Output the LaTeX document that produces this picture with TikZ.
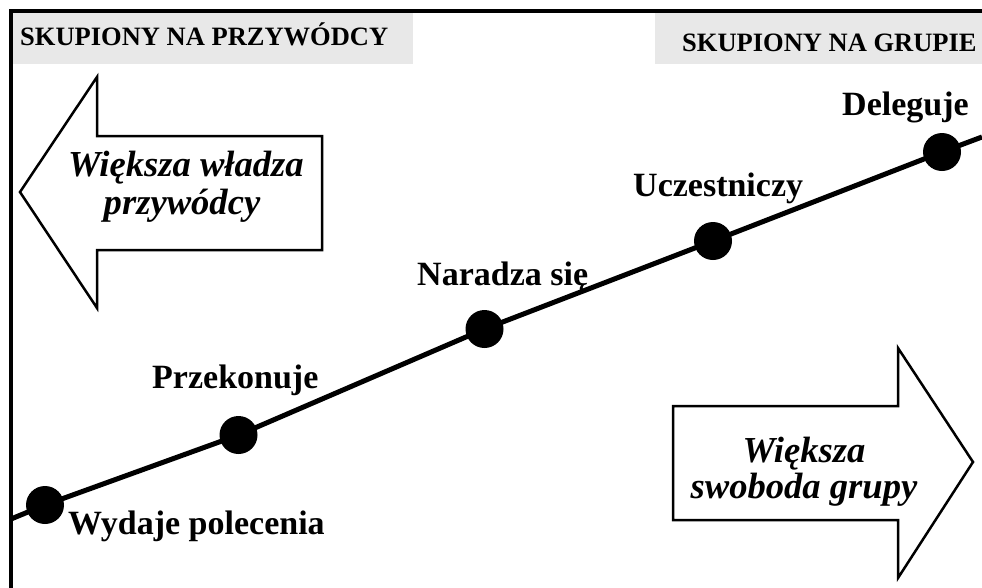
\documentclass[tikz,border=0pt]{standalone}
\usepackage{fontspec}
\setmainfont{Liberation Serif}
\usetikzlibrary{backgrounds}
\definecolor{bandgrey}{HTML}{E8E8E8}
\tikzset{
  frame/.style={line width=3.5pt, line cap=rect},
  band/.style={fill=bandgrey, draw=none},
  bandtext/.style={anchor=base west, inner sep=0pt, font=\fontsize{26.5}{30}\selectfont\bfseries},
  bigarrow/.style={draw=black, fill=white, line width=2.5pt, line join=miter},
  arrowtext/.style={anchor=base, inner sep=0pt, font=\fontsize{36.6}{38}\selectfont\bfseries\itshape},
  scale line/.style={line width=5pt},
  stage/.style={circle, fill=black, minimum size=38pt, inner sep=0pt},
  stagelabel/.style={anchor=base west, inner sep=0pt, font=\fontsize{34}{40}\selectfont\bfseries}
}
\begin{document}
\begin{tikzpicture}[x=1pt, y=-1pt]
  \useasboundingbox (0,0) rectangle (982,587);

  % header bands
  \fill[band] (13,13) rectangle (413,64);
  \fill[band] (655,13) rectangle (982,64);
  \node[bandtext] (hleft) at (20,45) {SKUPIONY NA PRZYWÓDCY};
  \node[bandtext] (hright) at (682,51) {SKUPIONY NA GRUPIE};

  % outer frame (top and left edges)
  \draw[frame] (11,587) -- (11,11) -- (982,11);

  % left block arrow
  \draw[bigarrow] (20,192) -- (97,77) -- (97,136) -- (322,136)
                  -- (322,250) -- (97,250) -- (97,308) -- cycle;
  \node[arrowtext] (la1) at (186,176) {Większa władza};
  \node[arrowtext] (la2) at (182,214) {przywódcy};

  % right block arrow
  \draw[bigarrow] (673,406) -- (898,406) -- (898,348) -- (973,462)
                  -- (898,578) -- (898,520) -- (673,520) -- cycle;
  \node[arrowtext] (ra1) at (804,462) {Większa};
  \node[arrowtext] (ra2) at (804,498) {swoboda grupy};

  % stages along the scale
  \coordinate (lstart) at (11,519);
  \coordinate (lend) at (982,137);
  \node[stage] (d1) at (45,505) {};
  \node[stage] (d2) at (238.5,435) {};
  \node[stage] (d3) at (484.5,329) {};
  \node[stage] (d4) at (713,241) {};
  \node[stage] (d5) at (942,152) {};
  \begin{scope}[on background layer]
    \draw[scale line] (lstart) -- (d1.center) -- (d2.center) -- (d3.center)
                      -- (d4.center) -- (d5.center) -- (lend);
  \end{scope}

  \node[stagelabel] (t1) at (68,534) {Wydaje polecenia};
  \node[stagelabel] (t2) at (152,388) {Przekonuje};
  \node[stagelabel] (t3) at (417,285) {Naradza się};
  \node[stagelabel] (t4) at (633,196) {Uczestniczy};
  \node[stagelabel] (t5) at (842,115) {Deleguje};
\end{tikzpicture}
\end{document}
